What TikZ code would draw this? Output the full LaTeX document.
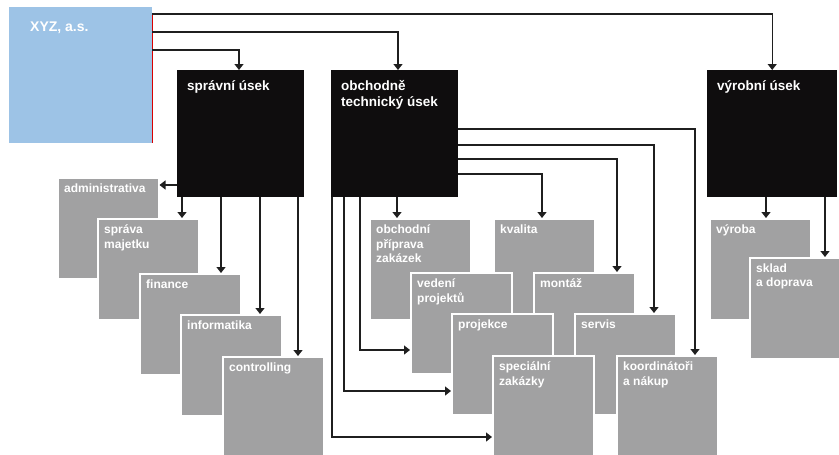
\documentclass[tikz,border=0pt]{standalone}
\usepackage{fontspec}
\setmainfont{Liberation Sans}
\usetikzlibrary{arrows.meta}
\definecolor{xyzblue}{RGB}{157,195,230}
\definecolor{unitgray}{RGB}{161,161,162}
\definecolor{headblack}{RGB}{15,13,14}
\tikzset{
  conn/.style={draw=black!88,line width=1.3pt,-{Triangle[length=6pt,width=9pt]}},
  unitbox/.style={anchor=north west,fill=unitgray,draw=white,line width=1.5pt,
    minimum width=101pt,minimum height=101pt,inner sep=0pt},
  unittext/.style={anchor=north west,text=white,align=left,
    font=\bfseries\fontsize{12}{14.5}\selectfont,inner xsep=7pt,inner ysep=6.5pt},
  headbox/.style={anchor=north west,fill=headblack,minimum width=127pt,
    minimum height=127pt,inner sep=0pt},
  headtext/.style={anchor=north west,text=white,align=left,
    font=\bfseries\fontsize{13.5}{16}\selectfont,inner xsep=10pt,inner ysep=10.5pt},
}
% #1 name, #2 x, #3 y, #4 text
\newcommand{\orgunit}[4]{%
  \node[unitbox] (#1) at (#2,#3) {};%
  \node[unittext] (#1-t) at (#1.north west) {#4};%
}
\newcommand{\orghead}[4]{%
  \node[headbox] (#1) at (#2,#3) {};%
  \node[headtext] (#1-t) at (#1.north west) {#4};%
}

\begin{document}
\begin{tikzpicture}[x=1pt,y=-1pt]
  \clip (0,0) rectangle (839,455);
  \fill[white] (0,0) rectangle (839,455);
  % company
  \node[anchor=north west,fill=xyzblue,minimum width=143pt,minimum height=136pt,inner sep=0pt] (xyz) at (9,7) {};
  \node[anchor=north west,text=white,font=\bfseries\fontsize{14}{16}\selectfont,inner xsep=21pt,inner ysep=15pt] (xyz-t) at (xyz.north west) {XYZ, a.s.};
  \draw[red!85!black,line width=0.8pt] (xyz.east |- 0,14) -- (xyz.south east);
  % divisions
  \orghead{spr}{177}{70}{správní úsek}
  \orghead{obt}{331}{70}{obchodně\\technický úsek}
  \node[headbox,minimum width=130pt] (vyr) at (707,70) {};
  \node[headtext] (vyr-t) at (vyr.north west) {výrobní úsek};
  % departments
  \orgunit{admin}{57}{177}{administrativa}
  \orgunit{sprava}{97}{218}{správa\\majetku}
  \orgunit{finance}{139}{273}{finance}
  \orgunit{informatika}{180}{314}{informatika}
  \orgunit{controlling}{222}{356}{controlling}
  \orgunit{obchodni}{369}{218}{obchodní\\příprava\\zakázek}
  \orgunit{kvalita}{493}{218}{kvalita}
  \orgunit{vedeni}{410}{272}{vedení\\projektů}
  \orgunit{montaz}{533}{272}{montáž}
  \orgunit{projekce}{451}{313}{projekce}
  \orgunit{servis}{574}{313}{servis}
  \orgunit{specialni}{492}{355}{speciální\\zakázky}
  \orgunit{koord}{616}{355}{koordinátoři\\a nákup}
  \orgunit{vyroba}{709}{218}{výroba}
  \orgunit{sklad}{749}{257}{sklad\\a doprava}
  % connectors
  \draw[conn] (xyz.east |- 0,14) -| (vyr.north);
  \draw[conn] (xyz.east |- 0,32) -| (obt.north -| 398,0);
  \draw[conn] (xyz.east |- 0,50) -| (spr.north -| 239,0);
  \draw[conn] (spr.west |- 0,185) -- (admin.east |- 0,185);
  \foreach \x/\t in {182/sprava,221/finance,260/informatika,298/controlling}
    \draw[conn] (spr.south -| \x,0) -- (\t.north -| \x,0);
  \draw[conn] (obt.south -| 397,0) -- (obchodni.north -| 397,0);
  \draw[conn] (obt.east |- 0,174) -| (kvalita.north -| 542,0);
  \draw[conn] (obt.east |- 0,159) -| (montaz.north -| 617,0);
  \draw[conn] (obt.east |- 0,145) -| (servis.north -| 654,0);
  \draw[conn] (obt.east |- 0,129) -| (koord.north -| 695,0);
  \draw[conn] (obt.south -| 360,0) |- (vedeni.west |- 0,350);
  \draw[conn] (obt.south -| 344,0) |- (projekce.west |- 0,391);
  \draw[conn] (obt.south -| 332,0) |- (specialni.west |- 0,437);
  \draw[conn] (vyr.south -| 766,0) -- (vyroba.north -| 766,0);
  \draw[conn] (vyr.south -| 825,0) -- (sklad.north -| 825,0);
\end{tikzpicture}
\end{document}
